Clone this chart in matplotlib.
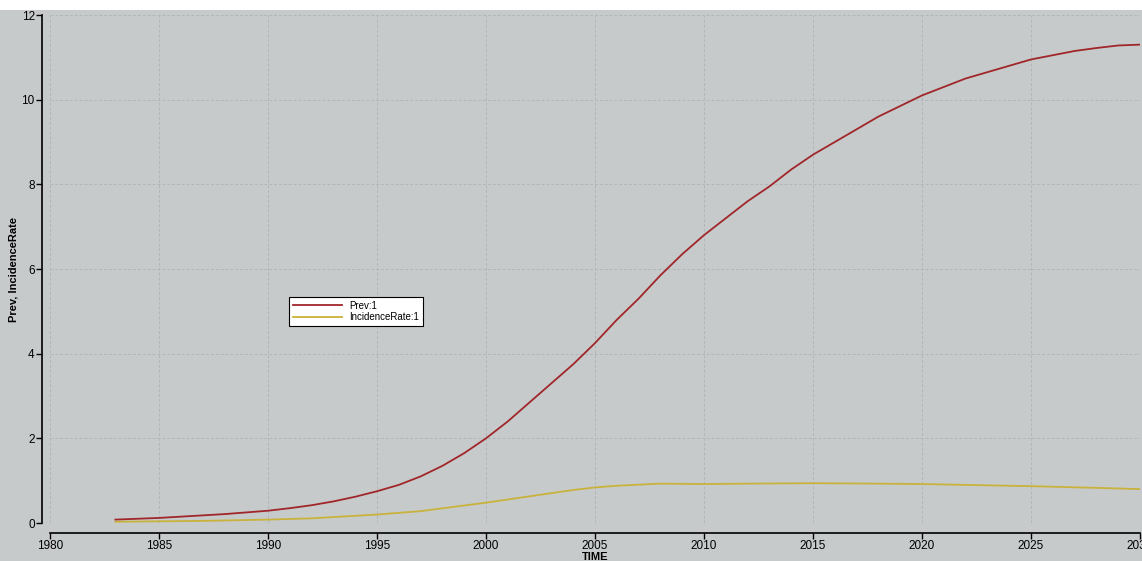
import numpy as np
import matplotlib
matplotlib.use("Agg")
import matplotlib.pyplot as plt
from matplotlib.patches import Rectangle

plt.rcParams['font.family'] = ['Liberation Sans', 'DejaVu Sans']

# values
years = list(range(1983, 2031))
prev = [0.08, 0.10, 0.12, 0.15, 0.18, 0.21, 0.25, 0.29, 0.35, 0.42,
        0.51, 0.62, 0.75, 0.90, 1.10, 1.35, 1.65, 2.00, 2.40, 2.85,
        3.30, 3.75, 4.25, 4.80, 5.30, 5.85, 6.35, 6.80, 7.20, 7.60,
        7.95, 8.35, 8.70, 9.00, 9.30, 9.60, 9.85, 10.10, 10.30, 10.50,
        10.65, 10.80, 10.95, 11.05, 11.15, 11.22, 11.28, 11.30]
inc_years = [1983, 1985, 1987, 1990, 1992, 1995, 1997, 2000, 2002, 2004,
             2005, 2006, 2008, 2010, 2012, 2015, 2018, 2020, 2022, 2025,
             2028, 2030]
incidence = [0.03, 0.04, 0.05, 0.08, 0.11, 0.20, 0.28, 0.48, 0.63, 0.78,
             0.84, 0.88, 0.93, 0.92, 0.93, 0.94, 0.93, 0.92, 0.90, 0.87,
             0.83, 0.80]
x_ticks = [1980, 1985, 1990, 1995, 2000, 2005, 2010, 2015, 2020, 2025, 2030]
y_ticks = [0, 2, 4, 6, 8, 10, 12]

bg = "#c7cacb"
fig = plt.figure(figsize=(11.42, 5.61), dpi=100, facecolor=bg)
# white strip along the top of the scan
fig.patches.append(Rectangle((0, 0.982), 1, 0.02, transform=fig.transFigure,
                             facecolor="white", edgecolor="none", zorder=-1))

ax = fig.add_axes([50 / 1142, 1 - 523 / 561, 1090 / 1142, 508 / 561])
ax.set_facecolor(bg)

ax.plot(years, prev, color="#a0262a", lw=1.3, label="Prev:1")
ax.plot(inc_years, incidence, color="#c9b23c", lw=1.3, label="IncidenceRate:1")

ax.set_xlim(1980, 2030)
ax.set_ylim(0, 12)
ax.set_xticks(x_ticks)
ax.set_yticks(y_ticks)
ax.grid(True, color="#b3b6b8", ls=(0, (3, 2)), lw=0.7)

for s in ["top", "right"]:
    ax.spines[s].set_visible(False)
ax.spines["left"].set_position(("outward", 6))
ax.spines["bottom"].set_position(("outward", 7))
ax.spines["left"].set_linewidth(1.2)
ax.spines["bottom"].set_linewidth(1.2)
ax.tick_params(labelsize=8.5, length=4, width=1, pad=1)

ax.set_ylabel("Prev, IncidenceRate", fontsize=8, fontweight="bold", labelpad=2)
ax.set_xlabel("TIME", fontsize=8, fontweight="bold", labelpad=0)

leg = ax.legend(loc="upper left", bbox_to_anchor=(0.215, 0.455), fontsize=7,
                frameon=True, fancybox=False, framealpha=1, edgecolor="black",
                handlelength=5, borderpad=0.4, labelspacing=0.15)
leg.get_frame().set_linewidth(0.8)

fig.savefig("out.png", dpi=100, facecolor=bg)
